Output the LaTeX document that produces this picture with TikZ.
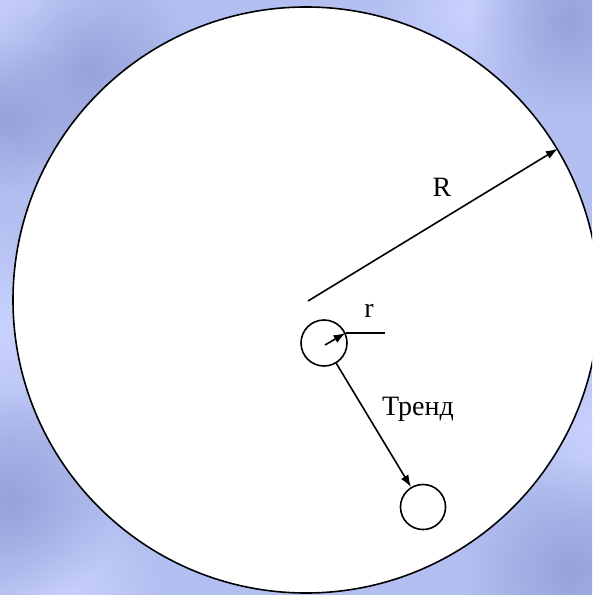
\documentclass[tikz,border=0pt]{standalone}
\usepackage{fontspec}
\setmainfont{Liberation Serif}
\usepackage{tikz}
\usetikzlibrary{arrows.meta, positioning, calc, fadings}
\definecolor{skybase}{HTML}{B4BFF1}
\definecolor{skydark}{HTML}{96A2DA}
\definecolor{skylight}{HTML}{CAD3FE}
\tikzfading[name=blob, inner color=transparent!0, outer color=transparent!100]

\begin{document}
\begin{tikzpicture}[x=0.75pt, y=-0.75pt,
    every node/.style={font=\fontsize{21}{24}\selectfont},
    ring/.style={draw, circle, line width=1.2pt, fill=white, inner sep=0pt},
    vec/.style={line width=1.2pt, -{Latex[length=9pt, width=6.5pt]}},
    cloud/.style={fill=#1, path fading=blob}]
  \clip (0, 0) rectangle (592, 595);

  % cloudy background
  \fill[skybase] (0, 0) rectangle (592, 595);
  \fill[cloud=skylight] (30, 10) circle (110);
  \fill[cloud=skylight] (470, 10) circle (90);
  \fill[cloud=skylight] (0, 330) circle (110);
  \fill[cloud=skylight] (60, 600) circle (100);
  \fill[cloud=skylight] (600, 430) circle (100);
  \fill[cloud=skydark] (90, 70) circle (110);
  \fill[cloud=skydark] (10, 120) circle (80);
  \fill[cloud=skydark] (570, 20) circle (100);
  \fill[cloud=skydark] (10, 500) circle (110);
  \fill[cloud=skydark] (570, 570) circle (110);

  % sizes in pt (1 unit = 0.75pt)
  \node[ring, minimum size=439.5pt] (field) at (306, 300) {};
  \node[ring, minimum size=34.5pt] (now) at (324, 343) {};
  \node[ring, minimum size=33.8pt] (next) at (423, 507) {};

  \coordinate (origin) at (308, 301);
  \coordinate (rtick) at (385, 334);
  \coordinate (rfoot) at (325, 345);

  \draw[vec] (origin) -- (field.31);
  \draw[vec] (rfoot) -- (now.25);
  \draw[line width=1.2pt] (now.25) -- (now.25 -| rtick);
  \draw[vec] (now) -- (next);

  \node (lblR) at (442, 187) {R};
  \node (lblr) at (369, 311) {r};
  \node (lbltrend) at (418, 409) {Тренд};
\end{tikzpicture}
\end{document}
